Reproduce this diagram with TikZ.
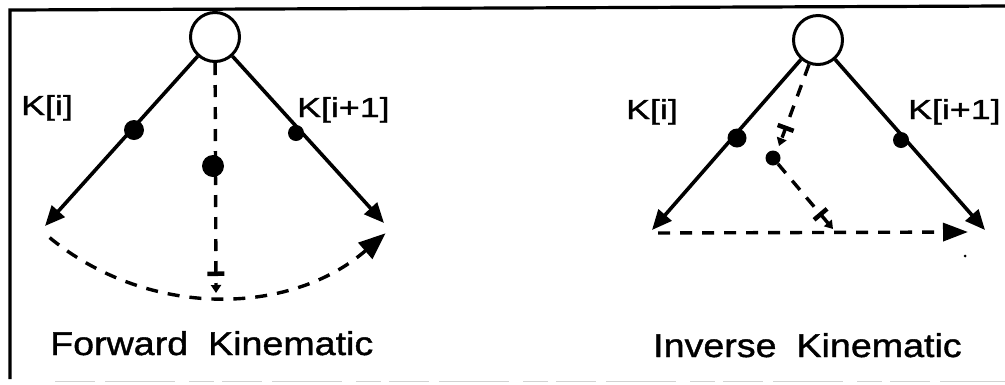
\documentclass[tikz,border=0pt]{standalone}
\usepackage{fontspec}
\setmainfont{Liberation Sans}
\newfontfamily\lblfont[FakeStretch=1.3,FakeBold=1.2]{Liberation Sans}
\newfontfamily\ttlfont[FakeStretch=1.14,FakeBold=1.2]{Liberation Sans}
\usetikzlibrary{arrows.meta}
\begin{document}
\begin{tikzpicture}[x=1pt,y=-1pt,
  link/.style={line width=3.6pt, -{Triangle[length=20pt,width=17pt]}},
  dashln/.style={line width=3.4pt, dash pattern=on 12pt off 10pt},
  bigtip/.style={-{Triangle[length=27pt,width=21pt]}},
  bartip/.style={-{Bar[width=17pt,line width=4.5pt,sep=9pt]Triangle[length=8pt,width=10pt]}},
  pivot/.style={circle, draw, line width=3pt, minimum size=49pt, inner sep=0pt},
  joint/.style={circle, fill, inner sep=0pt},
  lbl/.style={anchor=base west, inner sep=0pt, font=\lblfont\fontsize{27.5}{27.5}\selectfont},
  ttl/.style={anchor=base west, inner sep=0pt, font=\ttlfont\fontsize{33}{33}\selectfont}]
\useasboundingbox (0,0) rectangle (1005,384);

% frame (scanned)
\coordinate (fTR) at (1005,6);
\coordinate (fTL) at (10,10);
\coordinate (fBL) at (10,379);
\draw[line width=3.2pt] (fTR) -- (fTL) -- (fBL);
\coordinate (gB1) at (55,381);
\coordinate (gB2) at (1005,381);
\draw[gray!35, line width=1pt, dash pattern=on 40pt off 10pt on 70pt off 14pt on 25pt off 8pt] (gB1) -- (gB2);

% ---------------- Forward Kinematic ----------------
\node[pivot] (p1) at (215,37) {};
\coordinate (tL1) at (45,226);
\coordinate (tR1) at (384,223);
\coordinate (m1) at (216,293);
\draw[link] (p1) -- (tL1);
\draw[link] (p1) -- (tR1);
\draw[dashln, bartip] (p1) -- (m1);
\draw[dashln, bigtip] (p1.center) ++(129.5:260) coordinate (a1) arc[start angle=129.5, end angle=49, radius=260] coordinate (a2);
\node[joint, minimum size=20pt] (d1) at (134,130) {};
\node[joint, minimum size=16pt] (d2) at (296,133) {};
\node[joint, minimum size=22pt] (d3) at (213,166) {};
\node[lbl] (k1) at (21,115) {K[i]};
\node[lbl] (k2) at (297,117) {K[i+1]};
\node[ttl] (t1) at (50,355) {Forward\hspace{20pt}Kinematic};

% ---------------- Inverse Kinematic ----------------
\node[pivot] (p2) at (818,40) {};
\coordinate (tL2) at (652,230);
\coordinate (tR2) at (985,230);
\coordinate (hS) at (658,233);
\coordinate (hE) at (968,232);
\coordinate (s1e) at (779,146);
\coordinate (s2e) at (833,229);
\draw[link] (p2) -- (tL2);
\draw[link] (p2) -- (tR2);
\draw[dashln, -{Triangle[length=25pt,width=18pt]}] (hS) -- (hE);
\node[joint, minimum size=15pt] (d6) at (773,158) {};
\draw[dashln, bartip] (p2) -- (s1e);
\draw[dashln, bartip] (d6) -- (s2e);
\node[joint, minimum size=19pt] (d4) at (737,138) {};
\node[joint, minimum size=16pt] (d5) at (901,140) {};
\node[joint, minimum size=3pt] (sd) at (965,256) {};
\node[lbl] (k3) at (626,119) {K[i]};
\node[lbl] (k4) at (908,119) {K[i+1]};
\node[ttl] (t2) at (653,357) {Inverse\hspace{20pt}Kinematic};
\end{tikzpicture}
\end{document}
